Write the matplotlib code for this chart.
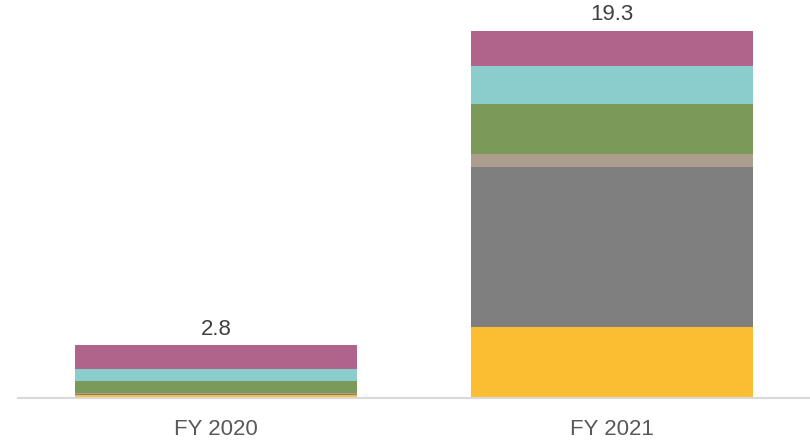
import matplotlib
matplotlib.use("Agg")
import matplotlib.pyplot as plt
import numpy as np

# categories and stacked segment values (bottom to top)
years = ["FY 2020", "FY 2021"]
yellow = [0.15, 3.73]
gray = [0.07, 8.44]
tan = [0.03, 0.67]
green = [0.65, 2.64]
teal = [0.60, 1.98]
purple = [1.28, 1.84]
totals = [2.8, 19.3]

segments = [yellow, gray, tan, green, teal, purple]
colors = ["#FBBE33", "#7F7F7F", "#AD9D8F", "#7B9959", "#8BCDCC", "#B0648C"]

plt.rcParams['font.family'] = ['Liberation Sans', 'DejaVu Sans']

fig = plt.figure(figsize=(8.1, 4.42), dpi=100)
ax = fig.add_axes([18 / 810, 44 / 442, 792 / 810, 398 / 442])

x = np.arange(len(years))
bottom = np.zeros(len(years))
for vals, c in zip(segments, colors):
	ax.bar(x, vals, width=0.712, bottom=bottom, color=c, linewidth=0)
	bottom += np.array(vals)

# total labels above bars
for xi, t, b in zip(x, totals, bottom):
	ax.annotate(f"{t:.1f}", (xi, b), xytext=(0, 4), textcoords="offset points",
		ha="center", va="bottom", fontsize=16, color="#404040")

ax.set_xlim(-0.5, 1.5)
ax.set_ylim(0, 20.93)
ax.set_xticks(x)
ax.set_xticklabels(years, fontsize=16, color="#595959")
ax.tick_params(axis="x", length=0, pad=15)
ax.set_yticks([])
for s in ["top", "right", "left"]:
	ax.spines[s].set_visible(False)
ax.spines["bottom"].set_color("#D9D9D9")
ax.spines["bottom"].set_linewidth(1.5)

fig.savefig("out.png", dpi=100)
